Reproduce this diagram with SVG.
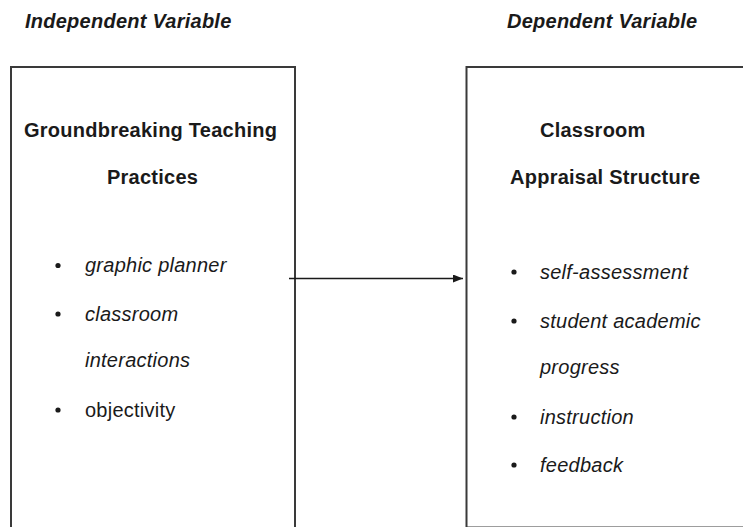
<svg xmlns="http://www.w3.org/2000/svg" width="743" height="527" viewBox="0 0 743 527">
  <defs>
    <style>
      text { font-family: "Liberation Sans", Arial, sans-serif; font-size: 20px; fill: #1a1a1a; letter-spacing: 0.25px; }
      .hdr { font-weight: bold; font-style: italic; }
      .title { font-weight: bold; }
      .item { font-style: italic; }
      .box { fill: none; stroke: #3a3a3a; stroke-width: 2; }
      .bullet { fill: #1a1a1a; }
      .conn { stroke: #1a1a1a; stroke-width: 1.6; fill: none; }
    </style>
    <marker id="arrow" viewBox="0 0 10 8" refX="10" refY="4" markerWidth="10" markerHeight="8" markerUnits="userSpaceOnUse" orient="auto">
      <path d="M0,0 L10,4 L0,8 Z" fill="#1a1a1a"/>
    </marker>
  </defs>

  <g id="header-independent">
    <text class="hdr" x="25" y="28">Independent Variable</text>
  </g>
  <g id="header-dependent">
    <text class="hdr" x="507" y="28">Dependent Variable</text>
  </g>

  <g id="node-independent">
    <rect class="box" x="11" y="67" width="284" height="480"/>
    <text class="title" x="24" y="137">Groundbreaking Teaching</text>
    <text class="title" x="107" y="184">Practices</text>
    <circle class="bullet" cx="58" cy="265.5" r="2.6"/>
    <text class="item" x="85" y="272">graphic planner</text>
    <circle class="bullet" cx="58" cy="314" r="2.6"/>
    <text class="item" x="85" y="320.5">classroom</text>
    <text class="item" x="85" y="367">interactions</text>
    <circle class="bullet" cx="58" cy="410" r="2.6"/>
    <text x="85" y="416.5">objectivity</text>
  </g>

  <g id="node-dependent">
    <rect class="box" x="466.5" y="67" width="300" height="460.5"/>
    <text class="title" x="540" y="137">Classroom</text>
    <text class="title" x="510" y="184">Appraisal Structure</text>
    <circle class="bullet" cx="514" cy="272" r="2.6"/>
    <text class="item" x="540" y="278.5">self-assessment</text>
    <circle class="bullet" cx="514" cy="321" r="2.6"/>
    <text class="item" x="540" y="327.5">student academic</text>
    <text class="item" x="540" y="374">progress</text>
    <circle class="bullet" cx="514" cy="417" r="2.6"/>
    <text class="item" x="540" y="423.5">instruction</text>
    <circle class="bullet" cx="514" cy="465" r="2.6"/>
    <text class="item" x="540" y="471.5">feedback</text>
  </g>

  <g id="connectors">
    <line class="conn" x1="289" y1="278.5" x2="463" y2="278.5" marker-end="url(#arrow)"/>
  </g>
</svg>
